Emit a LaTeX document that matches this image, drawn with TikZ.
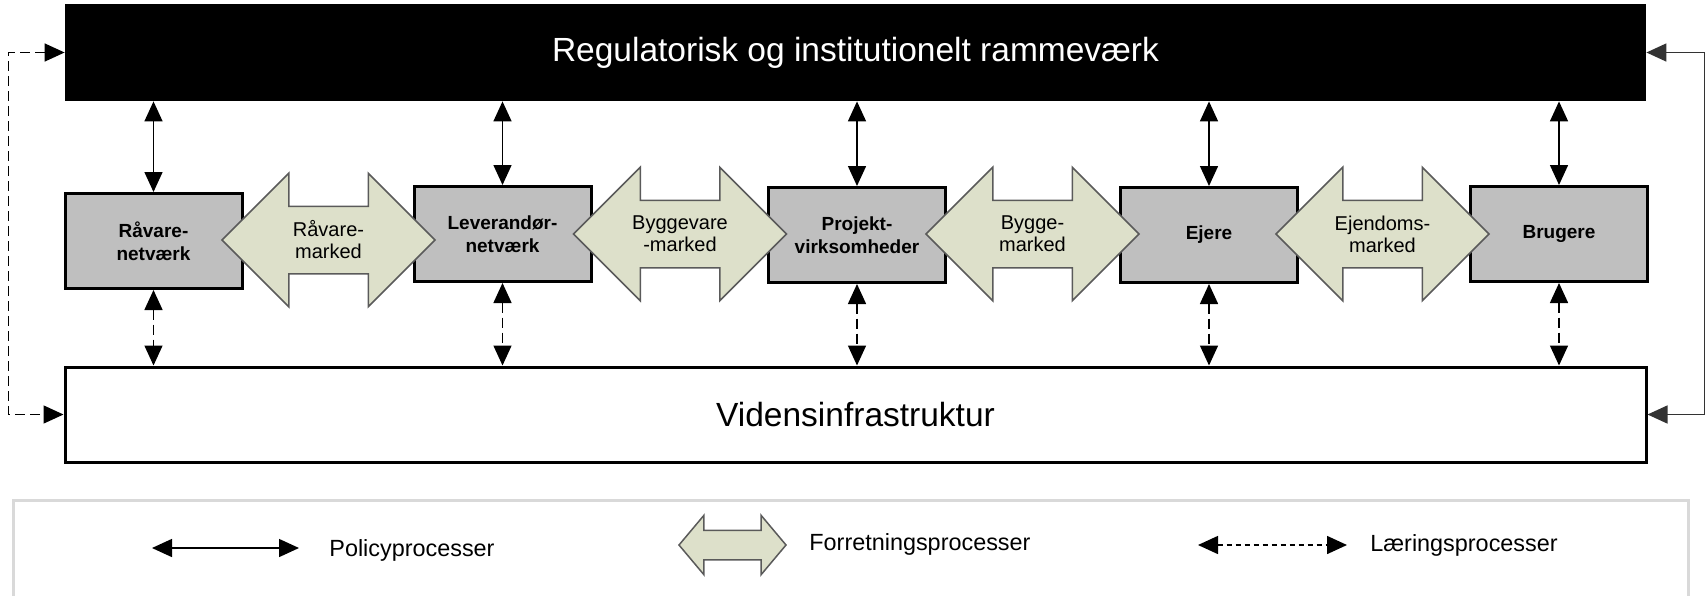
\documentclass[tikz,border=0pt]{standalone}
\usepackage{fontspec}
\setmainfont{Liberation Sans}
\usetikzlibrary{arrows.meta,shapes.arrows}

\definecolor{boxgray}{HTML}{BFBFBF}
\definecolor{marketfill}{HTML}{DDE0CA}
\definecolor{marketdraw}{HTML}{5A5A5A}
\definecolor{legendgray}{HTML}{D9D9D9}

\tikzset{
  topbox/.style={fill=black, text=white, minimum width=790.5pt, minimum height=48.5pt,
    font=\fontsize{16.75}{20}\selectfont},
  basebox/.style={draw, line width=1.5pt, fill=white, minimum width=790.5pt, minimum height=47.5pt,
    font=\fontsize{16.75}{20}\selectfont},
  actor/.style={draw, line width=1.5pt, fill=boxgray, minimum width=88.5pt, minimum height=47.5pt,
    inner sep=0pt, align=center, font=\fontsize{9.5}{11.5}\selectfont\bfseries},
  market/.style={double arrow, draw=marketdraw, line width=0.75pt, fill=marketfill,
    inner xsep=0pt, inner ysep=16.5pt, double arrow tip angle=90, double arrow head extend=16.5pt,
    minimum height=106.5pt, minimum width=66pt},
  mtext/.style={align=center, inner sep=0pt, font=\fontsize{10}{11}\selectfont},
  legendtext/.style={anchor=west, inner sep=0pt, font=\fontsize{11.7}{14}\selectfont},
  policy/.style={<->, line width=0.75pt},
  learning/.style={<->, line width=0.75pt, dash pattern=on 5pt off 2.5pt}
}

\begin{document}
\begin{tikzpicture}[>={Triangle[length=10pt,width=9pt]}, x=0.5pt, y=-0.5pt]
    \useasboundingbox (0,0) rectangle (1707,595);
    \node[topbox] (top) at (855.5,52.5) {Regulatorisk og institutionelt rammeværk};
    \node[basebox] (vid) at (855.5,414.5) {Vidensinfrastruktur};

    \node[actor] (r1) at (153.5,241) {Råvare-\\netværk};
    \node[actor] (r2) at (502.5,234) {Leverandør-\\netværk};
    \node[actor] (r3) at (857,235) {Projekt-\\virksomheder};
    \node[actor] (r4) at (1209,235) {Ejere};
    \node[actor] (r5) at (1559,234) {Brugere};

    \node[market] (m1) at (328.5,240) {};
    \node[market] (m2) at (680,234) {};
    \node[market] (m3) at (1032.5,234) {};
    \node[market] (m4) at (1382.5,234) {};
    \node[mtext] at (m1) {Råvare-\\marked};
    \node[mtext] at (m2) {Byggevare\\-marked};
    \node[mtext] at (m3) {Bygge-\\marked};
    \node[mtext] at (m4) {Ejendoms-\\marked};

    \foreach \i in {1,...,5}{
        \draw[policy] (r\i.north) -- (r\i.north |- top.south);
        \draw[learning] (r\i.south) -- (r\i.south |- vid.north);
    }
    % feedback
    \draw[learning] (top.west) -- ++(-56,0) |- (vid.west);
    \draw[policy, draw=black!80] (top.east) -- ++(58,0) |- (vid.east);

    % legend
    \draw[legendgray, line width=1.5pt] (13,500) rectangle (1688,650);
    \coordinate (p1) at (152,548);
    \coordinate (p2) at (299,548);
    \draw[policy] (p1) -- (p2);
    \node[legendtext] (pl) at (329,550) {Policyprocesser};
    \node[market, inner ysep=7pt, double arrow tip angle=100, double arrow head extend=7.5pt,
        minimum height=53.5pt, minimum width=29pt] (fl) at (732.5,545) {};
    \node[legendtext] (ft) at (809,544) {Forretningsprocesser};
    \coordinate (l1) at (1198,545);
    \coordinate (l2) at (1347,545);
    \draw[learning, dash pattern=on 2.5pt off 2pt] (l1) -- (l2);
    \node[legendtext] (lt) at (1370,545) {Læringsprocesser};
\end{tikzpicture}
\end{document}
